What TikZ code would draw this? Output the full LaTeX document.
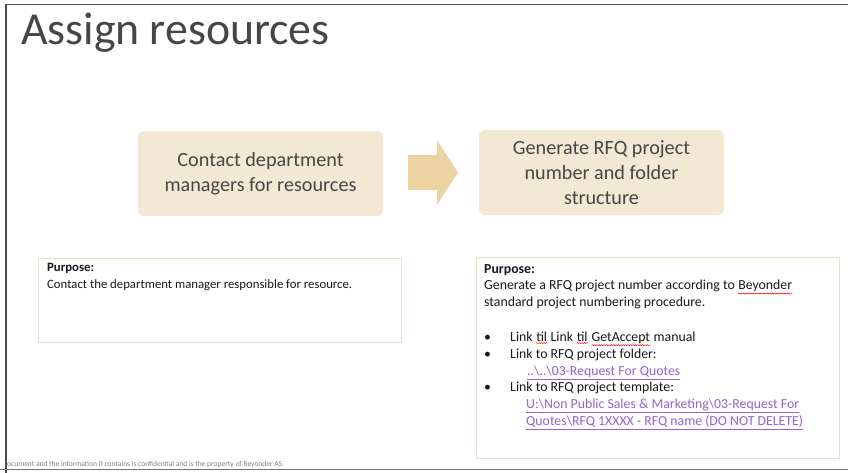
\documentclass[tikz,border=0pt]{standalone}
\usepackage{fontspec}
\setmainfont{Carlito}
\usetikzlibrary{positioning,decorations.pathmorphing}

\definecolor{boxtan}{RGB}{243,232,212}
\definecolor{arrowtan}{RGB}{236,212,162}
\definecolor{edgetan}{RGB}{232,224,200}
\definecolor{slidegray}{RGB}{70,70,70}
\definecolor{linkpurple}{RGB}{150,100,200}

\newcommand\spellerr[1]{\tikz[baseline=(w.base)]{\node[inner sep=0pt] (w) {#1};
		\draw[red, line width=0.5pt, decorate, decoration={snake, amplitude=0.5pt, segment length=2.4pt}]
		([yshift=-1.2pt]w.south west) -- ([yshift=-1.2pt]w.south east);}}
\newcommand\lnk[1]{\textcolor{linkpurple}{\underline{#1}}}

\begin{document}
\begin{tikzpicture}[x=1pt,y=-1pt,
	stepbox/.style={fill=boxtan, draw=none, rounded corners=6pt, minimum width=245pt,
		minimum height=85pt, align=center, text=slidegray, font=\fontsize{20.2}{24.8}\selectfont},
	notebox/.style={draw=edgetan, line width=1pt, fill=white, anchor=north west, inner sep=0pt},
	notetext/.style={anchor=north west, inner sep=0pt, align=left, text=black!90}
	]
	\useasboundingbox (0,0) rectangle (848,472);
	\fill[white] (0,0) rectangle (848,472);
	
	% slide frame
	\draw[black!70, line width=1.6pt] (6,480) -- (6,4.5) -- (860,4.5);
	\draw[black!55, line width=1.2pt] (0,469.5) -- (860,469.5);
	
	% title
	\node[anchor=base west, inner sep=0pt, text=slidegray, font=\fontsize{45.8}{46}\selectfont] (title) at (21,44) {Assign resources};
	
	% steps
	\node[stepbox] (contact) at (260.5,173.5) {Contact department\\managers for resources};
	\node[stepbox] (generate) at (601.5,172.5) {Generate RFQ project\\number and folder\\structure};
	
	\fill[arrowtan] (408,155) -- (437,155) -- (437,140) -- (458,172.5) -- (437,205) -- (437,190) -- (408,190) -- cycle;
	
	% purpose boxes
	\node[notebox, minimum width=363pt, minimum height=84pt] (purposeA) at (38,258) {};
	\node[notebox, minimum width=363pt, minimum height=201pt] (purposeB) at (476,257) {};
	
	\node[notetext, font=\fontsize{12.75}{16.6}\selectfont] (textA) at (47,263) {\textbf{Purpose:}\\Contact the department manager responsible for resource.};
	\node[notetext, font=\fontsize{13.8}{16.8}\selectfont] (textB) at (484,264) {\textbf{Purpose:}\\
		Generate a RFQ project number according to \spellerr{Beyonder}\\
		standard project numbering procedure.\\[18pt]
		\makebox[26pt][l]{\textbullet}Link \spellerr{til} Link \spellerr{til} \spellerr{GetAccept} manual\\
		\makebox[26pt][l]{\textbullet}Link to RFQ project folder:\\
		\hspace*{43pt}\lnk{..\textbackslash..\textbackslash03-Request For Quotes}\\
		\makebox[26pt][l]{\textbullet}Link to RFQ project template:\\
		\hspace*{42pt}\lnk{U:\textbackslash Non Public Sales \& Marketing\textbackslash 03-Request For}\\
		\hspace*{42pt}\lnk{Quotes\textbackslash RFQ 1XXXX - RFQ name (DO NOT DELETE)}};
	
	% footer
	\node[anchor=base west, inner sep=0pt, text=black!50, font=\fontsize{7.5}{8}\selectfont] (footer) at (7,466) {ocument and the information it contains is confidential and is the property of Beyonder AS.};
\end{tikzpicture}
\end{document}
